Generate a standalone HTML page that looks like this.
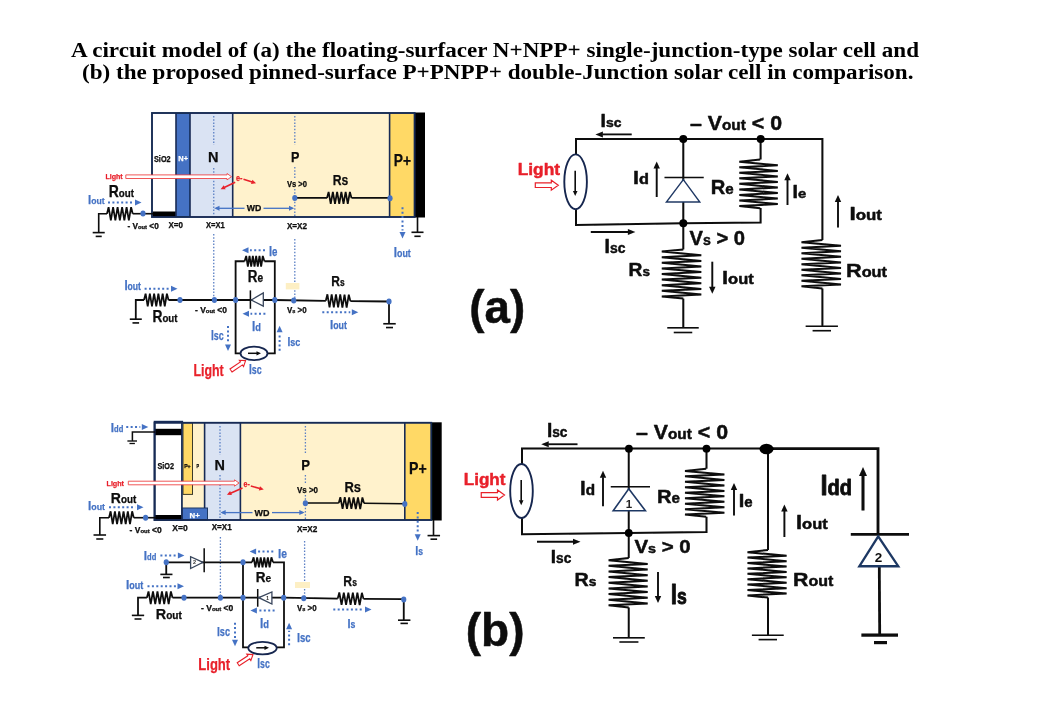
<!DOCTYPE html>
<html><head><meta charset="utf-8"><title>Circuit model</title>
<style>
html,body{margin:0;padding:0;background:#fff;}
body{width:1040px;height:720px;overflow:hidden;font-family:"Liberation Sans",sans-serif;}
svg{display:block;font-family:"Liberation Sans",sans-serif;}
</style></head><body>
<svg width="1040" height="720" viewBox="0 0 1040 720">
<defs><filter id="soft" x="0" y="0" width="1040" height="720" filterUnits="userSpaceOnUse"><feGaussianBlur stdDeviation="0.5"/></filter></defs>
<rect x="0" y="0" width="1040" height="720" fill="#ffffff"/>
<g filter="url(#soft)">
<text x="71" y="57.2" textLength="848" lengthAdjust="spacingAndGlyphs" fill="#000" font-weight="bold" font-family="Liberation Serif"><tspan font-size="20">A circuit model of (a) the floating-surfacer N+NPP+ single-junction-type solar cell and</tspan></text>
<text x="82" y="78.5" textLength="831.5" lengthAdjust="spacingAndGlyphs" fill="#000" font-weight="bold" font-family="Liberation Serif"><tspan font-size="20">(b) the proposed pinned-surface P+PNPP+ double-Junction solar cell in comparison.</tspan></text>
<!-- (a) cell -->
<rect x="152" y="113" width="24" height="104" fill="#ffffff" stroke="none" stroke-width="0"/>
<rect x="176" y="113" width="14" height="104" fill="#4472C4" stroke="none" stroke-width="0"/>
<rect x="190" y="113" width="42.7" height="104" fill="#DAE3F3" stroke="none" stroke-width="0"/>
<rect x="232.7" y="113" width="156.9" height="104" fill="#FFF2CC" stroke="none" stroke-width="0"/>
<rect x="389.6" y="113" width="25" height="104" fill="#FFD966" stroke="none" stroke-width="0"/>
<rect x="414.6" y="112.5" width="10.4" height="105" fill="#000" stroke="none" stroke-width="0"/>
<rect x="152.5" y="211.5" width="23.5" height="5.5" fill="#000" stroke="none" stroke-width="0"/>
<rect x="152" y="113" width="262.6" height="104" fill="none" stroke="#172B54" stroke-width="1.9"/>
<line x1="176" y1="113" x2="176" y2="217" stroke="#172B54" stroke-width="1.6"/>
<line x1="190" y1="113" x2="190" y2="217" stroke="#172B54" stroke-width="1.6"/>
<line x1="232.7" y1="113" x2="232.7" y2="217" stroke="#172B54" stroke-width="1.6"/>
<line x1="389.6" y1="113" x2="389.6" y2="217" stroke="#172B54" stroke-width="1.6"/>
<line x1="213.75" y1="116" x2="213.75" y2="145" stroke="#5A7FC4" stroke-width="1.3" stroke-dasharray="1.5 1.7"/>
<line x1="213.75" y1="168" x2="213.75" y2="216" stroke="#5A7FC4" stroke-width="1.3" stroke-dasharray="1.5 1.7"/>
<line x1="213.75" y1="234" x2="213.75" y2="299" stroke="#5A7FC4" stroke-width="1.3" stroke-dasharray="1.5 1.7"/>
<line x1="294.8" y1="116" x2="294.8" y2="145" stroke="#5A7FC4" stroke-width="1.3" stroke-dasharray="1.5 1.7"/>
<line x1="294.8" y1="167" x2="294.8" y2="178" stroke="#5A7FC4" stroke-width="1.3" stroke-dasharray="1.5 1.7"/>
<line x1="294.8" y1="189" x2="294.8" y2="216" stroke="#5A7FC4" stroke-width="1.3" stroke-dasharray="1.5 1.7"/>
<line x1="294.8" y1="239" x2="294.8" y2="299" stroke="#5A7FC4" stroke-width="1.3" stroke-dasharray="1.5 1.7"/>
<text x="154" y="162" textLength="16.6" lengthAdjust="spacingAndGlyphs" fill="#0a0a0a" font-weight="bold" stroke="#0a0a0a" stroke-width="0.25" stroke-linejoin="round"><tspan font-size="8.5">SiO2</tspan></text>
<text x="178.3" y="161" textLength="9.7" lengthAdjust="spacingAndGlyphs" fill="#fff" font-weight="bold" stroke="#fff" stroke-width="0.25" stroke-linejoin="round"><tspan font-size="7.5">N+</tspan></text>
<text x="208" y="162" textLength="10.5" lengthAdjust="spacingAndGlyphs" fill="#0a0a0a" font-weight="bold" stroke="#0a0a0a" stroke-width="0.25" stroke-linejoin="round"><tspan font-size="15.36">N</tspan></text>
<text x="291" y="162" textLength="8.4" lengthAdjust="spacingAndGlyphs" fill="#0a0a0a" font-weight="bold" stroke="#0a0a0a" stroke-width="0.25" stroke-linejoin="round"><tspan font-size="14.39">P</tspan></text>
<text x="393.75" y="165.6" textLength="17.25" lengthAdjust="spacingAndGlyphs" fill="#0a0a0a" font-weight="bold" stroke="#0a0a0a" stroke-width="0.25" stroke-linejoin="round"><tspan font-size="16.55">P+</tspan></text>
<polygon points="125.8,178.5 227,178.5 227,179.9 231.5,176.7 227,173.5 227,174.9 125.8,174.9" fill="#fff" stroke="#EE4545" stroke-width="0.9" stroke-linejoin="miter"/>
<text x="105.4" y="178.75" textLength="17.3" lengthAdjust="spacingAndGlyphs" fill="#E8202A" font-weight="bold" stroke="#E8202A" stroke-width="0.25" stroke-linejoin="round"><tspan font-size="8">Light</tspan></text>
<text x="236" y="180.5" textLength="6.5" lengthAdjust="spacingAndGlyphs" fill="#E8202A" font-weight="bold" stroke="#E8202A" stroke-width="0.25" stroke-linejoin="round"><tspan font-size="9">e-</tspan></text>
<line x1="235.2" y1="182.3" x2="224.22" y2="187.49" stroke="#E8202A" stroke-width="1.6"/>
<polygon points="220.6,189.2 223.71,185.24 225.63,189.31" fill="#E8202A"/>
<line x1="243.5" y1="179.2" x2="252.2" y2="182.05" stroke="#E8202A" stroke-width="1.6"/>
<polygon points="256,183.3 251.02,184.04 252.43,179.76" fill="#E8202A"/>
<text x="108.75" y="196.9" textLength="25.25" lengthAdjust="spacingAndGlyphs" fill="#0a0a0a" font-weight="bold" stroke="#0a0a0a" stroke-width="0.25" stroke-linejoin="round"><tspan font-size="16.06">R</tspan><tspan font-size="11.24">out</tspan></text>
<text x="88" y="204.2" textLength="16.6" lengthAdjust="spacingAndGlyphs" fill="#4472C4" font-weight="bold" stroke="#4472C4" stroke-width="0.25" stroke-linejoin="round"><tspan font-size="13.13">I</tspan><tspan font-size="9.98">out</tspan></text>
<line x1="108" y1="202.6" x2="133.5" y2="202.6" stroke="#4472C4" stroke-width="2" stroke-dasharray="2 2.4"/>
<polygon points="141.5,202.6 135,205.6 135,199.6" fill="#4472C4"/>
<path d="M98.7 232.6 L98.7 213.7 L107 213.7" stroke="#0a0a0a" stroke-width="1.6" fill="none"/>
<path d="M107 213.7 L108.6 207.1 L110.85 220.3 L113.1 207.1 L115.35 220.3 L117.6 207.1 L119.85 220.3 L122.1 207.1 L124.35 220.3 L126.6 207.1 L128.85 220.3 L131.1 207.1 L132.7 213.7" stroke="#0a0a0a" stroke-width="1.75" fill="none" stroke-linejoin="miter"/>
<line x1="132.7" y1="213.7" x2="153" y2="213.7" stroke="#0a0a0a" stroke-width="1.6"/>
<line x1="92.7" y1="232.6" x2="104.7" y2="232.6" stroke="#0a0a0a" stroke-width="1.6"/>
<line x1="95.7" y1="236.4" x2="101.7" y2="236.4" stroke="#0a0a0a" stroke-width="1.6"/>
<ellipse cx="143" cy="213.6" rx="2.6" ry="3" fill="#4472C4"/>
<text x="127.5" y="229.4" textLength="31.25" lengthAdjust="spacingAndGlyphs" fill="#0a0a0a" font-weight="bold" stroke="#0a0a0a" stroke-width="0.25" stroke-linejoin="round"><tspan font-size="8.3">- V</tspan><tspan font-size="5.8">out</tspan><tspan font-size="8.3"> &lt;0</tspan></text>
<text x="168.5" y="227.5" textLength="14.5" lengthAdjust="spacingAndGlyphs" fill="#0a0a0a" font-weight="bold" stroke="#0a0a0a" stroke-width="0.25" stroke-linejoin="round"><tspan font-size="8.5">X=0</tspan></text>
<text x="206" y="227.5" textLength="18.8" lengthAdjust="spacingAndGlyphs" fill="#0a0a0a" font-weight="bold" stroke="#0a0a0a" stroke-width="0.25" stroke-linejoin="round"><tspan font-size="8.5">X=X1</tspan></text>
<text x="286.9" y="228.7" textLength="20.1" lengthAdjust="spacingAndGlyphs" fill="#0a0a0a" font-weight="bold" stroke="#0a0a0a" stroke-width="0.25" stroke-linejoin="round"><tspan font-size="8.5">X=X2</tspan></text>
<text x="286.9" y="187" textLength="20.1" lengthAdjust="spacingAndGlyphs" fill="#0a0a0a" font-weight="bold" stroke="#0a0a0a" stroke-width="0.25" stroke-linejoin="round"><tspan font-size="8.5">Vs &gt;0</tspan></text>
<text x="332.7" y="185" textLength="15.6" lengthAdjust="spacingAndGlyphs" fill="#0a0a0a" font-weight="bold" stroke="#0a0a0a" stroke-width="0.25" stroke-linejoin="round"><tspan font-size="15.36">Rs</tspan></text>
<line x1="294.8" y1="197.9" x2="327" y2="197.9" stroke="#0a0a0a" stroke-width="1.6"/>
<path d="M327 197.9 L328.6 191.9 L330.73 203.9 L332.86 191.9 L334.99 203.9 L337.12 191.9 L339.25 203.9 L341.38 191.9 L343.51 203.9 L345.64 191.9 L347.77 203.9 L349.9 191.9 L351.5 197.9" stroke="#0a0a0a" stroke-width="1.75" fill="none" stroke-linejoin="miter"/>
<line x1="351.5" y1="197.9" x2="390" y2="197.9" stroke="#0a0a0a" stroke-width="1.6"/>
<ellipse cx="294.8" cy="197.9" rx="2.6" ry="3" fill="#4472C4"/>
<ellipse cx="390" cy="198.3" rx="2.6" ry="3" fill="#4472C4"/>
<line x1="216" y1="208.3" x2="244.5" y2="208.3" stroke="#4472C4" stroke-width="1.3"/>
<line x1="263.5" y1="208.3" x2="292.5" y2="208.3" stroke="#4472C4" stroke-width="1.3"/>
<polygon points="214.2,208.3 219.5,205.8 219.5,210.8" fill="#4472C4"/>
<polygon points="294.2,208.3 289,205.8 289,210.8" fill="#4472C4"/>
<text x="246.7" y="211.3" textLength="14.55" lengthAdjust="spacingAndGlyphs" fill="#0a0a0a" font-weight="bold" stroke="#0a0a0a" stroke-width="0.25" stroke-linejoin="round"><tspan font-size="8.5">WD</tspan></text>
<line x1="402.5" y1="207.3" x2="402.5" y2="230.5" stroke="#4472C4" stroke-width="2" stroke-dasharray="2 2.4"/>
<polygon points="402.5,238.5 399.5,232 405.5,232" fill="#4472C4"/>
<line x1="417.5" y1="217" x2="417.5" y2="232.3" stroke="#0a0a0a" stroke-width="1.6"/>
<line x1="411.5" y1="232.3" x2="423.5" y2="232.3" stroke="#0a0a0a" stroke-width="1.6"/>
<line x1="414.4" y1="236.3" x2="420.6" y2="236.3" stroke="#0a0a0a" stroke-width="1.6"/>
<text x="393.75" y="256.7" textLength="17.05" lengthAdjust="spacingAndGlyphs" fill="#4472C4" font-weight="bold" stroke="#4472C4" stroke-width="0.25" stroke-linejoin="round"><tspan font-size="13.97">I</tspan><tspan font-size="10.61">out</tspan></text>
<!-- (a) mid circuit -->
<rect x="285.8" y="283" width="13.6" height="6.4" fill="#FDEFC4" stroke="none" stroke-width="0"/>
<path d="M135.8 319.2 L135.8 300 L144 300" stroke="#0a0a0a" stroke-width="1.8" fill="none"/>
<line x1="129.8" y1="319.2" x2="141.8" y2="319.2" stroke="#0a0a0a" stroke-width="1.6"/>
<line x1="132.5" y1="322.9" x2="139.1" y2="322.9" stroke="#0a0a0a" stroke-width="1.6"/>
<path d="M144 300 L145.6 293.6 L147.73 306.4 L149.86 293.6 L151.99 306.4 L154.12 293.6 L156.25 306.4 L158.38 293.6 L160.51 306.4 L162.64 293.6 L164.77 306.4 L166.9 293.6 L168.5 300" stroke="#0a0a0a" stroke-width="1.75" fill="none" stroke-linejoin="miter"/>
<path d="M168.5 300 L274.8 300 L325.8 300.8" stroke="#0a0a0a" stroke-width="1.8" fill="none"/>
<path d="M325.8 300.8 L327.4 294.3 L329.54 307.33 L331.68 294.36 L333.82 307.39 L335.96 294.42 L338.1 307.45 L340.24 294.48 L342.38 307.51 L344.52 294.54 L346.66 307.57 L348.8 294.6 L350.4 301.1" stroke="#0a0a0a" stroke-width="1.75" fill="none" stroke-linejoin="miter"/>
<path d="M350.4 301.1 L389 301.5 L389 323.75" stroke="#0a0a0a" stroke-width="1.8" fill="none"/>
<line x1="383.25" y1="323.75" x2="395.75" y2="323.75" stroke="#0a0a0a" stroke-width="1.6"/>
<line x1="386" y1="327.55" x2="393" y2="327.55" stroke="#0a0a0a" stroke-width="1.6"/>
<path d="M235.6 300 L235.6 261.25 L244.6 261.25" stroke="#0a0a0a" stroke-width="1.8" fill="none"/>
<path d="M244.6 261.25 L246.2 255.95 L247.86 266.55 L249.52 255.95 L251.18 266.55 L252.84 255.95 L254.5 266.55 L256.16 255.95 L257.82 266.55 L259.48 255.95 L261.14 266.55 L262.8 255.95 L264.4 261.25" stroke="#0a0a0a" stroke-width="1.75" fill="none" stroke-linejoin="miter"/>
<path d="M264.4 261.25 L274.8 261.25 L274.8 300" stroke="#0a0a0a" stroke-width="1.8" fill="none"/>
<path d="M235.6 300 L235.6 353.3 L240.4 353.3" stroke="#0a0a0a" stroke-width="1.8" fill="none"/>
<path d="M267.5 353.3 L274.8 353.3 L274.8 300" stroke="#0a0a0a" stroke-width="1.8" fill="none"/>
<ellipse cx="254" cy="353.4" rx="13.5" ry="6.7" fill="#fff" stroke="#17274F" stroke-width="1.8"/>
<line x1="248" y1="353.3" x2="257" y2="353.3" stroke="#0a0a0a" stroke-width="1.5"/>
<polygon points="261,353.3 256.5,355.4 256.5,351.2" fill="#0a0a0a"/>
<line x1="250.4" y1="290.4" x2="250.4" y2="308.8" stroke="#0a0a0a" stroke-width="1.5"/>
<polygon points="251.3,300 263.3,293 263.3,306.2" fill="#fff" stroke="#39465C" stroke-width="1.3"/>
<ellipse cx="180" cy="300" rx="2.6" ry="3" fill="#4472C4"/>
<ellipse cx="214.4" cy="300" rx="2.6" ry="3" fill="#4472C4"/>
<ellipse cx="235.6" cy="300" rx="2.6" ry="3" fill="#4472C4"/>
<ellipse cx="274.8" cy="300" rx="2.6" ry="3" fill="#4472C4"/>
<ellipse cx="293.75" cy="300.4" rx="2.6" ry="3" fill="#4472C4"/>
<ellipse cx="389" cy="301.6" rx="2.6" ry="3" fill="#4472C4"/>
<text x="124.4" y="290" textLength="16.6" lengthAdjust="spacingAndGlyphs" fill="#4472C4" font-weight="bold" stroke="#4472C4" stroke-width="0.25" stroke-linejoin="round"><tspan font-size="13.97">I</tspan><tspan font-size="10.61">out</tspan></text>
<line x1="144.6" y1="288.75" x2="169.5" y2="288.75" stroke="#4472C4" stroke-width="2" stroke-dasharray="2 2.4"/>
<polygon points="177.5,288.75 171,291.75 171,285.75" fill="#4472C4"/>
<text x="152.5" y="321.7" textLength="25" lengthAdjust="spacingAndGlyphs" fill="#0a0a0a" font-weight="bold" stroke="#0a0a0a" stroke-width="0.25" stroke-linejoin="round"><tspan font-size="16.34">R</tspan><tspan font-size="11.44">out</tspan></text>
<text x="195" y="312.8" textLength="32" lengthAdjust="spacingAndGlyphs" fill="#0a0a0a" font-weight="bold" stroke="#0a0a0a" stroke-width="0.25" stroke-linejoin="round"><tspan font-size="8.3">- V</tspan><tspan font-size="5.8">out</tspan><tspan font-size="8.3"> &lt;0</tspan></text>
<line x1="265" y1="250.2" x2="250" y2="250.2" stroke="#4472C4" stroke-width="2" stroke-dasharray="2 2.4"/>
<polygon points="242,250.2 248.5,247.2 248.5,253.2" fill="#4472C4"/>
<text x="269" y="256" textLength="8.5" lengthAdjust="spacingAndGlyphs" fill="#4472C4" font-weight="bold" stroke="#4472C4" stroke-width="0.25" stroke-linejoin="round"><tspan font-size="13.97">I</tspan><tspan font-size="12.29">e</tspan></text>
<text x="247.7" y="282" textLength="15.3" lengthAdjust="spacingAndGlyphs" fill="#0a0a0a" font-weight="bold" stroke="#0a0a0a" stroke-width="0.25" stroke-linejoin="round"><tspan font-size="15.92">R</tspan><tspan font-size="11.94">e</tspan></text>
<line x1="265.4" y1="313.75" x2="250.5" y2="313.75" stroke="#4472C4" stroke-width="2" stroke-dasharray="2 2.4"/>
<polygon points="242.5,313.75 249,310.75 249,316.75" fill="#4472C4"/>
<text x="251.9" y="331" textLength="8.9" lengthAdjust="spacingAndGlyphs" fill="#4472C4" font-weight="bold" stroke="#4472C4" stroke-width="0.25" stroke-linejoin="round"><tspan font-size="14.53">I</tspan><tspan font-size="11.62">d</tspan></text>
<text x="211" y="340.4" textLength="12.75" lengthAdjust="spacingAndGlyphs" fill="#4472C4" font-weight="bold" stroke="#4472C4" stroke-width="0.25" stroke-linejoin="round"><tspan font-size="14.53">I</tspan><tspan font-size="12.78">sc</tspan></text>
<line x1="228" y1="326" x2="228" y2="343" stroke="#4472C4" stroke-width="2" stroke-dasharray="2 2.4"/>
<polygon points="228,351 225,344.5 231,344.5" fill="#4472C4"/>
<line x1="279.6" y1="350.8" x2="279.6" y2="333.8" stroke="#4472C4" stroke-width="2" stroke-dasharray="2 2.4"/>
<polygon points="279.6,325.8 282.6,332.3 276.6,332.3" fill="#4472C4"/>
<text x="287.5" y="345.6" textLength="12.9" lengthAdjust="spacingAndGlyphs" fill="#4472C4" font-weight="bold" stroke="#4472C4" stroke-width="0.25" stroke-linejoin="round"><tspan font-size="13.41">I</tspan><tspan font-size="11.8">sc</tspan></text>
<text x="249" y="374" textLength="12.7" lengthAdjust="spacingAndGlyphs" fill="#4472C4" font-weight="bold" stroke="#4472C4" stroke-width="0.25" stroke-linejoin="round"><tspan font-size="13.97">I</tspan><tspan font-size="12.29">sc</tspan></text>
<text x="193.5" y="375.8" textLength="30.25" lengthAdjust="spacingAndGlyphs" fill="#E8202A" font-weight="bold" stroke="#E8202A" stroke-width="0.25" stroke-linejoin="round"><tspan font-size="15.92">Light</tspan></text>
<polygon points="232.01,371.99 242.47,364.9 243.57,366.51 245.6,360.6 239.36,360.3 240.45,361.92 229.99,369.01" fill="#fff" stroke="#E8202A" stroke-width="1.1" stroke-linejoin="miter"/>
<text x="331.25" y="286.25" textLength="13.35" lengthAdjust="spacingAndGlyphs" fill="#0a0a0a" font-weight="bold" stroke="#0a0a0a" stroke-width="0.25" stroke-linejoin="round"><tspan font-size="15.15">R</tspan><tspan font-size="10.61">s</tspan></text>
<text x="286.9" y="312.8" textLength="19.8" lengthAdjust="spacingAndGlyphs" fill="#0a0a0a" font-weight="bold" stroke="#0a0a0a" stroke-width="0.25" stroke-linejoin="round"><tspan font-size="8.5">V</tspan><tspan font-size="6">s</tspan><tspan font-size="8.5"> &gt;0</tspan></text>
<line x1="322.3" y1="312.3" x2="350.3" y2="312.3" stroke="#4472C4" stroke-width="2" stroke-dasharray="2 2.4"/>
<polygon points="358.3,312.3 351.8,315.3 351.8,309.3" fill="#4472C4"/>
<text x="330" y="328.5" textLength="16.9" lengthAdjust="spacingAndGlyphs" fill="#4472C4" font-weight="bold" stroke="#4472C4" stroke-width="0.25" stroke-linejoin="round"><tspan font-size="13.27">I</tspan><tspan font-size="10.08">out</tspan></text>
<!-- (a) right circuit -->
<path d="M576 154.5 L576 139.1 L822.4 139.1 L822.4 240" stroke="#0a0a0a" stroke-width="2" fill="none"/>
<path d="M576 209 L576 225 L683.3 223.2 L760.6 222.6 L760.6 208" stroke="#0a0a0a" stroke-width="2" fill="none"/>
<ellipse cx="575.6" cy="181.8" rx="11.3" ry="27.4" fill="#fff" stroke="#17274F" stroke-width="1.9"/>
<line x1="575.2" y1="170.8" x2="575.2" y2="191.5" stroke="#0a0a0a" stroke-width="1.6"/>
<polygon points="575.2,196 572.9,191 577.5,191" fill="#0a0a0a"/>
<line x1="683.3" y1="139.1" x2="683.3" y2="249.4" stroke="#0a0a0a" stroke-width="2"/>
<line x1="664.5" y1="177.6" x2="703.75" y2="177.6" stroke="#0a0a0a" stroke-width="1.5"/>
<polygon points="683.3,179.6 699.8,202 666.4,202" fill="#fff" stroke="#1F3864" stroke-width="1.4"/>
<line x1="760.6" y1="139.1" x2="760.6" y2="159.5" stroke="#0a0a0a" stroke-width="2"/>
<path d="M760.2 159.5 L739.3 161.7 L777.8 165.35 L739.3 167.24 L777.8 170.89 L739.3 172.77 L777.8 176.43 L739.3 178.31 L777.8 181.97 L739.3 183.85 L777.8 187.5 L739.3 189.39 L777.8 193.04 L739.3 194.92 L777.8 198.58 L739.3 200.46 L777.8 204.12 L739.3 206 L760.2 208.2" stroke="#0a0a0a" stroke-width="2" fill="none" stroke-linejoin="miter" stroke-miterlimit="2"/>
<path d="M683.3 249.4 L661.8 251.6 L701.3 255.3 L661.8 257.2 L701.3 260.9 L661.8 262.8 L701.3 266.5 L661.8 268.4 L701.3 272.1 L661.8 274 L701.3 277.7 L661.8 279.6 L701.3 283.3 L661.8 285.2 L701.3 288.9 L661.8 290.8 L701.3 294.5 L661.8 296.4 L683.3 298.6" stroke="#0a0a0a" stroke-width="2" fill="none" stroke-linejoin="miter" stroke-miterlimit="2"/>
<line x1="683.3" y1="298.6" x2="683.3" y2="327.8" stroke="#0a0a0a" stroke-width="2"/>
<line x1="667.25" y1="327.8" x2="698.75" y2="327.8" stroke="#0a0a0a" stroke-width="1.6"/>
<line x1="673.75" y1="332.5" x2="692.25" y2="332.5" stroke="#0a0a0a" stroke-width="1.6"/>
<path d="M822.4 240 L801.5 242.2 L841 245.84 L801.5 247.71 L841 251.35 L801.5 253.22 L841 256.86 L801.5 258.74 L841 262.38 L801.5 264.25 L841 267.89 L801.5 269.76 L841 273.4 L801.5 275.27 L841 278.91 L801.5 280.79 L841 284.43 L801.5 286.3 L822.4 288.5" stroke="#0a0a0a" stroke-width="2" fill="none" stroke-linejoin="miter" stroke-miterlimit="2"/>
<line x1="822.4" y1="288.5" x2="822.4" y2="326.3" stroke="#0a0a0a" stroke-width="2"/>
<line x1="805.65" y1="326.3" x2="837.95" y2="326.3" stroke="#0a0a0a" stroke-width="1.6"/>
<line x1="812.6" y1="330.7" x2="831" y2="330.7" stroke="#0a0a0a" stroke-width="1.6"/>
<ellipse cx="683.3" cy="139.1" rx="4" ry="4" fill="#000"/>
<ellipse cx="760.7" cy="139.1" rx="4" ry="4" fill="#000"/>
<ellipse cx="683.3" cy="223.2" rx="4" ry="4" fill="#000"/>
<text x="600.6" y="127" textLength="20.9" lengthAdjust="spacingAndGlyphs" fill="#0a0a0a" font-weight="bold" stroke="#0a0a0a" stroke-width="0.45" stroke-linejoin="round"><tspan font-size="18.85">I</tspan><tspan font-size="13.58">sc</tspan></text>
<line x1="631.7" y1="134.4" x2="602.4" y2="134.4" stroke="#0a0a0a" stroke-width="1.8"/>
<polygon points="595.4,134.4 602.9,131.4 602.9,137.4" fill="#0a0a0a"/>
<text x="690" y="129.5" textLength="92" lengthAdjust="spacingAndGlyphs" fill="#0a0a0a" font-weight="bold" stroke="#0a0a0a" stroke-width="0.45" stroke-linejoin="round"><tspan font-size="20.25">– V</tspan><tspan font-size="14.58">out</tspan><tspan font-size="20.25"> &lt; 0</tspan></text>
<text x="517.7" y="175" textLength="42.3" lengthAdjust="spacingAndGlyphs" fill="#E8202A" font-weight="bold" stroke="#E8202A" stroke-width="0.45" stroke-linejoin="round"><tspan font-size="16.06">Light</tspan></text>
<polygon points="535.3,187.5 551.3,187.5 551.3,190.2 558.3,185.2 551.3,180.2 551.3,182.9 535.3,182.9" fill="#fff" stroke="#E8202A" stroke-width="1.2" stroke-linejoin="miter"/>
<text x="633" y="184.4" textLength="16" lengthAdjust="spacingAndGlyphs" fill="#0a0a0a" font-weight="bold" stroke="#0a0a0a" stroke-width="0.45" stroke-linejoin="round"><tspan font-size="18.99">I</tspan><tspan font-size="14.25">d</tspan></text>
<line x1="656.7" y1="197" x2="656.7" y2="168" stroke="#0a0a0a" stroke-width="1.9"/>
<polygon points="656.7,161.5 659.9,168.5 653.5,168.5" fill="#0a0a0a"/>
<text x="710.75" y="193.75" textLength="23" lengthAdjust="spacingAndGlyphs" fill="#0a0a0a" font-weight="bold" stroke="#0a0a0a" stroke-width="0.45" stroke-linejoin="round"><tspan font-size="19.9">R</tspan><tspan font-size="14.93">e</tspan></text>
<line x1="787.5" y1="205" x2="787.5" y2="179.75" stroke="#0a0a0a" stroke-width="1.9"/>
<polygon points="787.5,173.25 790.7,180.25 784.3,180.25" fill="#0a0a0a"/>
<text x="792.5" y="197.5" textLength="13.75" lengthAdjust="spacingAndGlyphs" fill="#0a0a0a" font-weight="bold" stroke="#0a0a0a" stroke-width="0.45" stroke-linejoin="round"><tspan font-size="17.46">I</tspan><tspan font-size="13.09">e</tspan></text>
<line x1="838" y1="227.5" x2="838" y2="201.5" stroke="#0a0a0a" stroke-width="1.9"/>
<polygon points="838,195 841.2,202 834.8,202" fill="#0a0a0a"/>
<text x="849.5" y="220" textLength="32.5" lengthAdjust="spacingAndGlyphs" fill="#0a0a0a" font-weight="bold" stroke="#0a0a0a" stroke-width="0.45" stroke-linejoin="round"><tspan font-size="19.2">I</tspan><tspan font-size="14.4">out</tspan></text>
<text x="689.5" y="244.5" textLength="55.5" lengthAdjust="spacingAndGlyphs" fill="#0a0a0a" font-weight="bold" stroke="#0a0a0a" stroke-width="0.45" stroke-linejoin="round"><tspan font-size="20.25">V</tspan><tspan font-size="14.18">s</tspan><tspan font-size="20.25"> &gt; 0</tspan></text>
<line x1="590.8" y1="232" x2="628.4" y2="232" stroke="#0a0a0a" stroke-width="1.8"/>
<polygon points="635.4,232 627.9,235 627.9,229" fill="#0a0a0a"/>
<text x="604.6" y="252.5" textLength="20.9" lengthAdjust="spacingAndGlyphs" fill="#0a0a0a" font-weight="bold" stroke="#0a0a0a" stroke-width="0.45" stroke-linejoin="round"><tspan font-size="19.41">I</tspan><tspan font-size="13.98">sc</tspan></text>
<text x="628.6" y="276" textLength="21.4" lengthAdjust="spacingAndGlyphs" fill="#0a0a0a" font-weight="bold" stroke="#0a0a0a" stroke-width="0.45" stroke-linejoin="round"><tspan font-size="19.13">R</tspan><tspan font-size="13.39">s</tspan></text>
<line x1="712.3" y1="261.7" x2="712.3" y2="287.2" stroke="#0a0a0a" stroke-width="1.9"/>
<polygon points="712.3,293.7 709.1,286.7 715.5,286.7" fill="#0a0a0a"/>
<text x="722" y="283.8" textLength="31.8" lengthAdjust="spacingAndGlyphs" fill="#0a0a0a" font-weight="bold" stroke="#0a0a0a" stroke-width="0.45" stroke-linejoin="round"><tspan font-size="19.27">I</tspan><tspan font-size="14.46">out</tspan></text>
<text x="846" y="276.5" textLength="41" lengthAdjust="spacingAndGlyphs" fill="#0a0a0a" font-weight="bold" stroke="#0a0a0a" stroke-width="0.45" stroke-linejoin="round"><tspan font-size="18.85">R</tspan><tspan font-size="14.14">out</tspan></text>
<text x="469.3" y="323" textLength="55.9" lengthAdjust="spacingAndGlyphs" fill="#0a0a0a" font-weight="bold" stroke="#0a0a0a" stroke-width="0.45" stroke-linejoin="round"><tspan font-size="46">(a)</tspan></text>
<!-- (b) cell -->
<rect x="154.6" y="421.7" width="27.6" height="98.3" fill="#ffffff" stroke="#172B54" stroke-width="1.8"/>
<rect x="182" y="422.8" width="22.6" height="85.2" fill="#FFF2CC" stroke="none" stroke-width="0"/>
<rect x="183" y="422.8" width="9.5" height="71.6" fill="#FFD966" stroke="#3a3a2a" stroke-width="1"/>
<rect x="204.6" y="422.8" width="35.8" height="97.2" fill="#DAE3F3" stroke="none" stroke-width="0"/>
<rect x="182" y="508" width="25.5" height="12" fill="#4472C4" stroke="#1F3864" stroke-width="1"/>
<rect x="240.4" y="422.8" width="164.4" height="97.2" fill="#FFF2CC" stroke="none" stroke-width="0"/>
<rect x="404.8" y="422.8" width="26.45" height="97.2" fill="#FFD966" stroke="none" stroke-width="0"/>
<rect x="431.25" y="422.3" width="10.45" height="98.2" fill="#000" stroke="none" stroke-width="0"/>
<rect x="155" y="428.8" width="26.9" height="6.4" fill="#000" stroke="none" stroke-width="0"/>
<rect x="155" y="515" width="26.7" height="5" fill="#000" stroke="none" stroke-width="0"/>
<rect x="154.6" y="422.8" width="276.65" height="97.2" fill="none" stroke="#172B54" stroke-width="1.9"/>
<line x1="182" y1="422.8" x2="182" y2="520" stroke="#172B54" stroke-width="1.6"/>
<line x1="204.6" y1="422.8" x2="204.6" y2="508" stroke="#172B54" stroke-width="1.6"/>
<line x1="240.4" y1="422.8" x2="240.4" y2="520" stroke="#172B54" stroke-width="1.6"/>
<line x1="404.8" y1="422.8" x2="404.8" y2="520" stroke="#172B54" stroke-width="1.6"/>
<line x1="213.5" y1="116" x2="213.5" y2="116" stroke="#4472C4" stroke-width="0"/>
<line x1="220" y1="426" x2="220" y2="455" stroke="#5A7FC4" stroke-width="1.3" stroke-dasharray="1.5 1.7"/>
<line x1="220" y1="475" x2="220" y2="519" stroke="#5A7FC4" stroke-width="1.3" stroke-dasharray="1.5 1.7"/>
<line x1="220.4" y1="537" x2="220.4" y2="597" stroke="#5A7FC4" stroke-width="1.3" stroke-dasharray="1.5 1.7"/>
<line x1="305.4" y1="426" x2="305.4" y2="454" stroke="#5A7FC4" stroke-width="1.3" stroke-dasharray="1.5 1.7"/>
<line x1="305.4" y1="475" x2="305.4" y2="484" stroke="#5A7FC4" stroke-width="1.3" stroke-dasharray="1.5 1.7"/>
<line x1="305.4" y1="495" x2="305.4" y2="519" stroke="#5A7FC4" stroke-width="1.3" stroke-dasharray="1.5 1.7"/>
<line x1="304.6" y1="541" x2="304.6" y2="597" stroke="#5A7FC4" stroke-width="1.3" stroke-dasharray="1.5 1.7"/>
<text x="157.5" y="469.3" textLength="16.5" lengthAdjust="spacingAndGlyphs" fill="#0a0a0a" font-weight="bold" stroke="#0a0a0a" stroke-width="0.25" stroke-linejoin="round"><tspan font-size="8.5">SiO2</tspan></text>
<text x="184.2" y="468" textLength="6.4" lengthAdjust="spacingAndGlyphs" fill="#0a0a0a" font-weight="bold" stroke="#0a0a0a" stroke-width="0.25" stroke-linejoin="round"><tspan font-size="4.6">P+</tspan></text>
<text x="196.6" y="468" textLength="2.6" lengthAdjust="spacingAndGlyphs" fill="#0a0a0a" font-weight="bold" stroke="#0a0a0a" stroke-width="0.25" stroke-linejoin="round"><tspan font-size="4.6">P</tspan></text>
<text x="214.4" y="470" textLength="10.4" lengthAdjust="spacingAndGlyphs" fill="#0a0a0a" font-weight="bold" stroke="#0a0a0a" stroke-width="0.25" stroke-linejoin="round"><tspan font-size="15.36">N</tspan></text>
<text x="301.25" y="470.4" textLength="8.75" lengthAdjust="spacingAndGlyphs" fill="#0a0a0a" font-weight="bold" stroke="#0a0a0a" stroke-width="0.25" stroke-linejoin="round"><tspan font-size="15.08">P</tspan></text>
<text x="409" y="473.5" textLength="17.7" lengthAdjust="spacingAndGlyphs" fill="#0a0a0a" font-weight="bold" stroke="#0a0a0a" stroke-width="0.25" stroke-linejoin="round"><tspan font-size="16.06">P+</tspan></text>
<text x="189.6" y="518" textLength="10.2" lengthAdjust="spacingAndGlyphs" fill="#fff" font-weight="bold" stroke="#fff" stroke-width="0.25" stroke-linejoin="round"><tspan font-size="7.5">N+</tspan></text>
<polygon points="128.3,484.8 234.5,484.8 234.5,486.2 239,483 234.5,479.8 234.5,481.2 128.3,481.2" fill="#fff" stroke="#EE4545" stroke-width="0.9" stroke-linejoin="miter"/>
<text x="106.5" y="485.5" textLength="17.5" lengthAdjust="spacingAndGlyphs" fill="#E8202A" font-weight="bold" stroke="#E8202A" stroke-width="0.25" stroke-linejoin="round"><tspan font-size="8">Light</tspan></text>
<text x="243.5" y="487" textLength="6.3" lengthAdjust="spacingAndGlyphs" fill="#E8202A" font-weight="bold" stroke="#E8202A" stroke-width="0.25" stroke-linejoin="round"><tspan font-size="9">e-</tspan></text>
<line x1="242.5" y1="488" x2="230.57" y2="493.2" stroke="#E8202A" stroke-width="1.6"/>
<polygon points="226.9,494.8 230.13,490.94 231.92,495.06" fill="#E8202A"/>
<line x1="250.8" y1="486" x2="259.9" y2="488.53" stroke="#E8202A" stroke-width="1.6"/>
<polygon points="263.75,489.6 258.81,490.56 260.02,486.23" fill="#E8202A"/>
<text x="110.8" y="502.7" textLength="25.45" lengthAdjust="spacingAndGlyphs" fill="#0a0a0a" font-weight="bold" stroke="#0a0a0a" stroke-width="0.25" stroke-linejoin="round"><tspan font-size="15.08">R</tspan><tspan font-size="10.56">out</tspan></text>
<text x="88" y="510" textLength="17" lengthAdjust="spacingAndGlyphs" fill="#4472C4" font-weight="bold" stroke="#4472C4" stroke-width="0.25" stroke-linejoin="round"><tspan font-size="13.13">I</tspan><tspan font-size="9.98">out</tspan></text>
<line x1="109" y1="507.3" x2="135.5" y2="507.3" stroke="#4472C4" stroke-width="2" stroke-dasharray="2 2.4"/>
<polygon points="143.5,507.3 137,510.3 137,504.3" fill="#4472C4"/>
<path d="M99.8 535 L99.8 517.7 L109 517.7" stroke="#0a0a0a" stroke-width="1.6" fill="none"/>
<path d="M109 517.7 L110.6 511.3 L112.75 524.1 L114.91 511.3 L117.06 524.1 L119.22 511.3 L121.38 524.1 L123.53 511.3 L125.69 524.1 L127.84 511.3 L130 524.1 L132.15 511.3 L133.75 517.7" stroke="#0a0a0a" stroke-width="1.75" fill="none" stroke-linejoin="miter"/>
<line x1="133.75" y1="517.7" x2="156" y2="517.7" stroke="#0a0a0a" stroke-width="1.6"/>
<line x1="93.55" y1="535" x2="106.05" y2="535" stroke="#0a0a0a" stroke-width="1.6"/>
<line x1="96.3" y1="539" x2="103.3" y2="539" stroke="#0a0a0a" stroke-width="1.6"/>
<ellipse cx="145.6" cy="517.7" rx="2.6" ry="3" fill="#4472C4"/>
<text x="129.6" y="532.8" textLength="32.1" lengthAdjust="spacingAndGlyphs" fill="#0a0a0a" font-weight="bold" stroke="#0a0a0a" stroke-width="0.25" stroke-linejoin="round"><tspan font-size="8.3">- V</tspan><tspan font-size="5.8">out</tspan><tspan font-size="8.3"> &lt;0</tspan></text>
<text x="172.3" y="531" textLength="15.4" lengthAdjust="spacingAndGlyphs" fill="#0a0a0a" font-weight="bold" stroke="#0a0a0a" stroke-width="0.25" stroke-linejoin="round"><tspan font-size="8.5">X=0</tspan></text>
<text x="211.7" y="530" textLength="20" lengthAdjust="spacingAndGlyphs" fill="#0a0a0a" font-weight="bold" stroke="#0a0a0a" stroke-width="0.25" stroke-linejoin="round"><tspan font-size="8.5">X=X1</tspan></text>
<text x="296.9" y="531.8" textLength="20.4" lengthAdjust="spacingAndGlyphs" fill="#0a0a0a" font-weight="bold" stroke="#0a0a0a" stroke-width="0.25" stroke-linejoin="round"><tspan font-size="8.5">X=X2</tspan></text>
<text x="296.9" y="492.8" textLength="21.1" lengthAdjust="spacingAndGlyphs" fill="#0a0a0a" font-weight="bold" stroke="#0a0a0a" stroke-width="0.25" stroke-linejoin="round"><tspan font-size="8.5">Vs &gt;0</tspan></text>
<text x="344.4" y="491.7" textLength="16.6" lengthAdjust="spacingAndGlyphs" fill="#0a0a0a" font-weight="bold" stroke="#0a0a0a" stroke-width="0.25" stroke-linejoin="round"><tspan font-size="15.22">Rs</tspan></text>
<text x="110.8" y="432" textLength="12.5" lengthAdjust="spacingAndGlyphs" fill="#4472C4" font-weight="bold" stroke="#4472C4" stroke-width="0.25" stroke-linejoin="round"><tspan font-size="13.27">I</tspan><tspan font-size="8.49">dd</tspan></text>
<line x1="126.25" y1="427" x2="140.3" y2="427" stroke="#4472C4" stroke-width="2" stroke-dasharray="2 2.4"/>
<polygon points="148.3,427 141.8,430 141.8,424" fill="#4472C4"/>
<path d="M155 432 L132.4 432 L132.4 441" stroke="#0a0a0a" stroke-width="1.5" fill="none"/>
<line x1="127.4" y1="441" x2="137" y2="441" stroke="#0a0a0a" stroke-width="1.3"/>
<line x1="129.5" y1="443.5" x2="134.9" y2="443.5" stroke="#0a0a0a" stroke-width="1.3"/>
<line x1="305.4" y1="503" x2="338.75" y2="503" stroke="#0a0a0a" stroke-width="1.6"/>
<path d="M338.75 503 L340.35 497.2 L342.56 508.83 L344.76 497.26 L346.97 508.89 L349.17 497.32 L351.38 508.95 L353.58 497.38 L355.79 509.01 L357.99 497.44 L360.2 509.07 L362.4 497.5 L364 503.3" stroke="#0a0a0a" stroke-width="1.75" fill="none" stroke-linejoin="miter"/>
<line x1="364" y1="503.3" x2="404.8" y2="503.8" stroke="#0a0a0a" stroke-width="1.6"/>
<ellipse cx="305.4" cy="503.2" rx="2.6" ry="3" fill="#4472C4"/>
<ellipse cx="404.8" cy="504" rx="2.6" ry="3" fill="#4472C4"/>
<line x1="222" y1="512.6" x2="252.5" y2="512.6" stroke="#4472C4" stroke-width="1.3"/>
<line x1="272" y1="512.6" x2="303" y2="512.6" stroke="#4472C4" stroke-width="1.3"/>
<polygon points="220.4,512.6 225.7,510.1 225.7,515.1" fill="#4472C4"/>
<polygon points="304.6,512.6 299.3,510.1 299.3,515.1" fill="#4472C4"/>
<text x="254.6" y="515.6" textLength="15" lengthAdjust="spacingAndGlyphs" fill="#0a0a0a" font-weight="bold" stroke="#0a0a0a" stroke-width="0.25" stroke-linejoin="round"><tspan font-size="8.5">WD</tspan></text>
<line x1="417.7" y1="512" x2="417.7" y2="532.8" stroke="#4472C4" stroke-width="2" stroke-dasharray="2 2.4"/>
<polygon points="417.7,540.8 414.7,534.3 420.7,534.3" fill="#4472C4"/>
<line x1="433.5" y1="520" x2="433.5" y2="535.6" stroke="#0a0a0a" stroke-width="1.6"/>
<line x1="427.55" y1="535.6" x2="440.05" y2="535.6" stroke="#0a0a0a" stroke-width="1.6"/>
<line x1="430.5" y1="539.2" x2="437.1" y2="539.2" stroke="#0a0a0a" stroke-width="1.6"/>
<text x="415.2" y="554.8" textLength="7.8" lengthAdjust="spacingAndGlyphs" fill="#4472C4" font-weight="bold" stroke="#4472C4" stroke-width="0.25" stroke-linejoin="round"><tspan font-size="13.69">I</tspan><tspan font-size="10.95">s</tspan></text>
<!-- (b) mid circuit -->
<rect x="295" y="582" width="15" height="6" fill="#FDEFC4" stroke="none" stroke-width="0"/>
<path d="M138 615.4 L138 597.7 L146.9 597.7" stroke="#0a0a0a" stroke-width="1.8" fill="none"/>
<line x1="131.85" y1="615.4" x2="144.15" y2="615.4" stroke="#0a0a0a" stroke-width="1.6"/>
<line x1="134.55" y1="619" x2="141.45" y2="619" stroke="#0a0a0a" stroke-width="1.6"/>
<path d="M146.9 597.7 L148.5 591.4 L150.74 604 L152.98 591.4 L155.22 604 L157.46 591.4 L159.7 604 L161.94 591.4 L164.18 604 L166.42 591.4 L168.66 604 L170.9 591.4 L172.5 597.7" stroke="#0a0a0a" stroke-width="1.75" fill="none" stroke-linejoin="miter"/>
<path d="M172.5 597.7 L284 597.7 L337.7 598.6" stroke="#0a0a0a" stroke-width="1.8" fill="none"/>
<path d="M337.7 598.6 L339.3 592.5 L341.56 604.73 L343.82 592.56 L346.08 604.79 L348.34 592.62 L350.6 604.85 L352.86 592.68 L355.12 604.91 L357.38 592.74 L359.64 604.97 L361.9 592.8 L363.5 598.9" stroke="#0a0a0a" stroke-width="1.75" fill="none" stroke-linejoin="miter"/>
<path d="M363.5 598.9 L403.75 599.2 L403.75 620.2" stroke="#0a0a0a" stroke-width="1.8" fill="none"/>
<line x1="398" y1="620.2" x2="410.4" y2="620.2" stroke="#0a0a0a" stroke-width="1.6"/>
<line x1="400.5" y1="623.4" x2="407.9" y2="623.4" stroke="#0a0a0a" stroke-width="1.6"/>
<path d="M166.25 562.3 L166.25 574.4" stroke="#0a0a0a" stroke-width="1.8" fill="none"/>
<line x1="160.35" y1="574.4" x2="172.45" y2="574.4" stroke="#0a0a0a" stroke-width="1.6"/>
<line x1="163" y1="577.5" x2="169.8" y2="577.5" stroke="#0a0a0a" stroke-width="1.6"/>
<path d="M166.25 562.3 L252 562.3" stroke="#0a0a0a" stroke-width="1.8" fill="none"/>
<path d="M252 562.3 L253.6 557.3 L255.38 567.3 L257.16 557.3 L258.94 567.3 L260.72 557.3 L262.5 567.3 L264.28 557.3 L266.06 567.3 L267.84 557.3 L269.62 567.3 L271.4 557.3 L273 562.3" stroke="#0a0a0a" stroke-width="1.75" fill="none" stroke-linejoin="miter"/>
<path d="M273 562.3 L284 562.3 L284 647.3 L276.7 647.3" stroke="#0a0a0a" stroke-width="1.8" fill="none"/>
<path d="M243 562.3 L243 647.3 L248.3 647.3" stroke="#0a0a0a" stroke-width="1.8" fill="none"/>
<ellipse cx="262.5" cy="648.1" rx="14.2" ry="6.3" fill="#fff" stroke="#17274F" stroke-width="1.8"/>
<line x1="256.25" y1="647.8" x2="265" y2="647.8" stroke="#0a0a0a" stroke-width="1.5"/>
<polygon points="269,647.8 264.5,649.9 264.5,645.7" fill="#0a0a0a"/>
<polygon points="190.6,556.7 190.6,568.5 203,562.3" fill="#fff" stroke="#39465C" stroke-width="1.3"/>
<line x1="204.2" y1="548.3" x2="204.2" y2="572.3" stroke="#0a0a0a" stroke-width="1.5"/>
<text x="194.6" y="564.4" text-anchor="middle" font-size="5.5" fill="#333" font-weight="bold">2</text>
<line x1="257.7" y1="589" x2="257.7" y2="606.7" stroke="#0a0a0a" stroke-width="1.5"/>
<polygon points="258.8,597.7 271.9,591.9 271.9,604" fill="#fff" stroke="#39465C" stroke-width="1.3"/>
<text x="267.6" y="600" text-anchor="middle" font-size="5.5" fill="#333" font-weight="bold">1</text>
<ellipse cx="166.25" cy="562.3" rx="2.6" ry="3" fill="#4472C4"/>
<ellipse cx="243" cy="562.3" rx="2.6" ry="3" fill="#4472C4"/>
<ellipse cx="184" cy="597.7" rx="2.6" ry="3" fill="#4472C4"/>
<ellipse cx="220.4" cy="597.7" rx="2.6" ry="3" fill="#4472C4"/>
<ellipse cx="243" cy="597.7" rx="2.6" ry="3" fill="#4472C4"/>
<ellipse cx="283.7" cy="597.7" rx="2.6" ry="3" fill="#4472C4"/>
<ellipse cx="303.75" cy="598.3" rx="2.6" ry="3" fill="#4472C4"/>
<ellipse cx="403.75" cy="599.4" rx="2.6" ry="3" fill="#4472C4"/>
<text x="143.75" y="559.6" textLength="12.5" lengthAdjust="spacingAndGlyphs" fill="#4472C4" font-weight="bold" stroke="#4472C4" stroke-width="0.25" stroke-linejoin="round"><tspan font-size="13.69">I</tspan><tspan font-size="8.76">dd</tspan></text>
<line x1="160.4" y1="555.6" x2="176.4" y2="555.6" stroke="#4472C4" stroke-width="2" stroke-dasharray="2 2.4"/>
<polygon points="184.4,555.6 177.9,558.6 177.9,552.6" fill="#4472C4"/>
<line x1="273.3" y1="551.5" x2="257.6" y2="551.5" stroke="#4472C4" stroke-width="2" stroke-dasharray="2 2.4"/>
<polygon points="249.6,551.5 256.1,548.5 256.1,554.5" fill="#4472C4"/>
<text x="278" y="557.5" textLength="9" lengthAdjust="spacingAndGlyphs" fill="#4472C4" font-weight="bold" stroke="#4472C4" stroke-width="0.25" stroke-linejoin="round"><tspan font-size="13.69">I</tspan><tspan font-size="12.04">e</tspan></text>
<text x="255.8" y="581.7" textLength="15.45" lengthAdjust="spacingAndGlyphs" fill="#0a0a0a" font-weight="bold" stroke="#0a0a0a" stroke-width="0.25" stroke-linejoin="round"><tspan font-size="15.5">R</tspan><tspan font-size="11.63">e</tspan></text>
<text x="126" y="588.75" textLength="17.3" lengthAdjust="spacingAndGlyphs" fill="#4472C4" font-weight="bold" stroke="#4472C4" stroke-width="0.25" stroke-linejoin="round"><tspan font-size="13.62">I</tspan><tspan font-size="10.35">out</tspan></text>
<line x1="147.5" y1="586.25" x2="176" y2="586.25" stroke="#4472C4" stroke-width="2" stroke-dasharray="2 2.4"/>
<polygon points="184,586.25 177.5,589.25 177.5,583.25" fill="#4472C4"/>
<text x="155.8" y="619" textLength="26.1" lengthAdjust="spacingAndGlyphs" fill="#0a0a0a" font-weight="bold" stroke="#0a0a0a" stroke-width="0.25" stroke-linejoin="round"><tspan font-size="15.36">R</tspan><tspan font-size="10.75">out</tspan></text>
<text x="201" y="610.5" textLength="32.3" lengthAdjust="spacingAndGlyphs" fill="#0a0a0a" font-weight="bold" stroke="#0a0a0a" stroke-width="0.25" stroke-linejoin="round"><tspan font-size="8.3">- V</tspan><tspan font-size="5.8">out</tspan><tspan font-size="8.3"> &lt;0</tspan></text>
<line x1="274.6" y1="610.6" x2="258.4" y2="610.6" stroke="#4472C4" stroke-width="2" stroke-dasharray="2 2.4"/>
<polygon points="250.4,610.6 256.9,607.6 256.9,613.6" fill="#4472C4"/>
<text x="260" y="627.5" textLength="9" lengthAdjust="spacingAndGlyphs" fill="#4472C4" font-weight="bold" stroke="#4472C4" stroke-width="0.25" stroke-linejoin="round"><tspan font-size="13.97">I</tspan><tspan font-size="11.17">d</tspan></text>
<text x="217" y="636.25" textLength="13" lengthAdjust="spacingAndGlyphs" fill="#4472C4" font-weight="bold" stroke="#4472C4" stroke-width="0.25" stroke-linejoin="round"><tspan font-size="13.62">I</tspan><tspan font-size="11.98">sc</tspan></text>
<line x1="235" y1="622.7" x2="235" y2="638.25" stroke="#4472C4" stroke-width="2" stroke-dasharray="2 2.4"/>
<polygon points="235,646.25 232,639.75 238,639.75" fill="#4472C4"/>
<line x1="289.1" y1="645.2" x2="289.1" y2="630.7" stroke="#4472C4" stroke-width="2" stroke-dasharray="2 2.4"/>
<polygon points="289.1,622.7 292.1,629.2 286.1,629.2" fill="#4472C4"/>
<text x="297" y="641.5" textLength="13.6" lengthAdjust="spacingAndGlyphs" fill="#4472C4" font-weight="bold" stroke="#4472C4" stroke-width="0.25" stroke-linejoin="round"><tspan font-size="13.69">I</tspan><tspan font-size="12.04">sc</tspan></text>
<text x="257.3" y="667.5" textLength="12.5" lengthAdjust="spacingAndGlyphs" fill="#4472C4" font-weight="bold" stroke="#4472C4" stroke-width="0.25" stroke-linejoin="round"><tspan font-size="13.97">I</tspan><tspan font-size="12.29">sc</tspan></text>
<text x="198.3" y="670" textLength="31.9" lengthAdjust="spacingAndGlyphs" fill="#E8202A" font-weight="bold" stroke="#E8202A" stroke-width="0.25" stroke-linejoin="round"><tspan font-size="16.76">Light</tspan></text>
<polygon points="239.18,665.71 249.78,658.83 250.85,660.47 253,654.6 246.76,654.17 247.83,655.81 237.22,662.69" fill="#fff" stroke="#E8202A" stroke-width="1.1" stroke-linejoin="miter"/>
<text x="343.3" y="585.8" textLength="13.6" lengthAdjust="spacingAndGlyphs" fill="#0a0a0a" font-weight="bold" stroke="#0a0a0a" stroke-width="0.25" stroke-linejoin="round"><tspan font-size="15.36">R</tspan><tspan font-size="10.75">s</tspan></text>
<text x="296.9" y="610.5" textLength="19.8" lengthAdjust="spacingAndGlyphs" fill="#0a0a0a" font-weight="bold" stroke="#0a0a0a" stroke-width="0.25" stroke-linejoin="round"><tspan font-size="8.5">V</tspan><tspan font-size="6">s</tspan><tspan font-size="8.5"> &gt;0</tspan></text>
<line x1="333.3" y1="609.6" x2="363.5" y2="609.6" stroke="#4472C4" stroke-width="2" stroke-dasharray="2 2.4"/>
<polygon points="371.5,609.6 365,612.6 365,606.6" fill="#4472C4"/>
<text x="347.5" y="628.3" textLength="7.9" lengthAdjust="spacingAndGlyphs" fill="#4472C4" font-weight="bold" stroke="#4472C4" stroke-width="0.25" stroke-linejoin="round"><tspan font-size="13.69">I</tspan><tspan font-size="10.95">s</tspan></text>
<!-- (b) right circuit -->
<path d="M522 464 L522 448.6 L768 448.6" stroke="#0a0a0a" stroke-width="2" fill="none"/>
<path d="M766 448.7 L878 448.7 L878 535" stroke="#0a0a0a" stroke-width="2.8" fill="none"/>
<path d="M522 518 L522 534.3 L628.75 533 L706.5 531.9 L706.5 516.8" stroke="#0a0a0a" stroke-width="2" fill="none"/>
<ellipse cx="521.5" cy="491" rx="11.3" ry="27" fill="#fff" stroke="#17274F" stroke-width="1.9"/>
<line x1="521.2" y1="480" x2="521.2" y2="500.7" stroke="#0a0a0a" stroke-width="1.6"/>
<polygon points="521.2,505.2 518.9,500.2 523.5,500.2" fill="#0a0a0a"/>
<line x1="628.75" y1="448.6" x2="628.75" y2="558" stroke="#0a0a0a" stroke-width="2"/>
<line x1="610.75" y1="486.8" x2="650" y2="486.8" stroke="#0a0a0a" stroke-width="1.5"/>
<polygon points="628.75,488.8 645.4,510.8 613.2,510.8" fill="#fff" stroke="#1F3864" stroke-width="1.6"/>
<text x="628.9" y="508.4" text-anchor="middle" font-size="11.5" fill="#222" font-weight="bold">1</text>
<line x1="706.5" y1="448.6" x2="706.5" y2="468.7" stroke="#0a0a0a" stroke-width="2"/>
<path d="M706.2 468.7 L685 470.9 L724.4 474.51 L685 476.36 L724.4 479.97 L685 481.82 L724.4 485.43 L685 487.29 L724.4 490.89 L685 492.75 L724.4 496.36 L685 498.21 L724.4 501.82 L685 503.67 L724.4 507.28 L685 509.14 L724.4 512.74 L685 514.6 L706.2 516.8" stroke="#0a0a0a" stroke-width="2" fill="none" stroke-linejoin="miter" stroke-miterlimit="2"/>
<path d="M628.75 558 L608.6 560.2 L647.7 563.92 L608.6 565.84 L647.7 569.56 L608.6 571.48 L647.7 575.2 L608.6 577.11 L647.7 580.83 L608.6 582.75 L647.7 586.47 L608.6 588.39 L647.7 592.11 L608.6 594.03 L647.7 597.75 L608.6 599.66 L647.7 603.38 L608.6 605.3 L628.75 607.5" stroke="#0a0a0a" stroke-width="2" fill="none" stroke-linejoin="miter" stroke-miterlimit="2"/>
<line x1="628.75" y1="607.5" x2="628.75" y2="637.8" stroke="#0a0a0a" stroke-width="2"/>
<line x1="613" y1="637.8" x2="644.8" y2="637.8" stroke="#0a0a0a" stroke-width="1.6"/>
<line x1="619.4" y1="642" x2="638.4" y2="642" stroke="#0a0a0a" stroke-width="1.6"/>
<line x1="768" y1="448.6" x2="768" y2="550" stroke="#0a0a0a" stroke-width="2"/>
<path d="M768 550 L747.5 552.2 L786.6 555.76 L747.5 557.6 L786.6 561.16 L747.5 563 L786.6 566.56 L747.5 568.4 L786.6 571.96 L747.5 573.8 L786.6 577.36 L747.5 579.2 L786.6 582.76 L747.5 584.6 L786.6 588.16 L747.5 590 L786.6 593.56 L747.5 595.4 L768 597.6" stroke="#0a0a0a" stroke-width="2" fill="none" stroke-linejoin="miter" stroke-miterlimit="2"/>
<line x1="768" y1="597.6" x2="768" y2="635.2" stroke="#0a0a0a" stroke-width="2"/>
<line x1="751.9" y1="635.2" x2="783.7" y2="635.2" stroke="#0a0a0a" stroke-width="1.6"/>
<line x1="758.6" y1="639.6" x2="777" y2="639.6" stroke="#0a0a0a" stroke-width="1.6"/>
<line x1="850.8" y1="534.4" x2="909" y2="534.4" stroke="#0a0a0a" stroke-width="2.6"/>
<line x1="879.3" y1="566" x2="879.7" y2="635.2" stroke="#0a0a0a" stroke-width="2.8"/>
<polygon points="878.2,536.4 898.2,566.2 859.4,566.2" fill="#fff" stroke="#1F3864" stroke-width="2.4"/>
<text x="878.6" y="561.8" text-anchor="middle" font-size="13.5" fill="#111" font-weight="bold">2</text>
<line x1="861.4" y1="635.2" x2="898" y2="635.2" stroke="#0a0a0a" stroke-width="3.2"/>
<line x1="874" y1="642.6" x2="887" y2="642.6" stroke="#0a0a0a" stroke-width="3.2"/>
<ellipse cx="628.9" cy="448.7" rx="3.9" ry="3.9" fill="#000"/>
<ellipse cx="706.5" cy="448.7" rx="3.9" ry="3.9" fill="#000"/>
<ellipse cx="628.75" cy="533" rx="3.9" ry="3.9" fill="#000"/>
<ellipse cx="766.5" cy="449" rx="7" ry="5.2" fill="#000"/>
<text x="547" y="437" textLength="20.5" lengthAdjust="spacingAndGlyphs" fill="#0a0a0a" font-weight="bold" stroke="#0a0a0a" stroke-width="0.45" stroke-linejoin="round"><tspan font-size="19.55">I</tspan><tspan font-size="14.08">sc</tspan></text>
<line x1="577.5" y1="444.25" x2="548.25" y2="444.25" stroke="#0a0a0a" stroke-width="1.8"/>
<polygon points="541.25,444.25 548.75,441.25 548.75,447.25" fill="#0a0a0a"/>
<text x="636" y="439" textLength="92" lengthAdjust="spacingAndGlyphs" fill="#0a0a0a" font-weight="bold" stroke="#0a0a0a" stroke-width="0.45" stroke-linejoin="round"><tspan font-size="20.25">– V</tspan><tspan font-size="14.58">out</tspan><tspan font-size="20.25"> &lt; 0</tspan></text>
<text x="463.75" y="485" textLength="41.75" lengthAdjust="spacingAndGlyphs" fill="#E8202A" font-weight="bold" stroke="#E8202A" stroke-width="0.45" stroke-linejoin="round"><tspan font-size="16.41">Light</tspan></text>
<polygon points="481.25,497.3 497.5,497.3 497.5,500 504.5,495 497.5,490 497.5,492.7 481.25,492.7" fill="#fff" stroke="#E8202A" stroke-width="1.2" stroke-linejoin="miter"/>
<text x="580" y="494.5" textLength="15" lengthAdjust="spacingAndGlyphs" fill="#0a0a0a" font-weight="bold" stroke="#0a0a0a" stroke-width="0.45" stroke-linejoin="round"><tspan font-size="20.25">I</tspan><tspan font-size="15.19">d</tspan></text>
<line x1="603" y1="506.25" x2="603" y2="477.25" stroke="#0a0a0a" stroke-width="1.9"/>
<polygon points="603,470.75 606.2,477.75 599.8,477.75" fill="#0a0a0a"/>
<text x="657" y="502.7" textLength="23" lengthAdjust="spacingAndGlyphs" fill="#0a0a0a" font-weight="bold" stroke="#0a0a0a" stroke-width="0.45" stroke-linejoin="round"><tspan font-size="19.13">R</tspan><tspan font-size="14.35">e</tspan></text>
<line x1="734" y1="515.4" x2="734" y2="489.5" stroke="#0a0a0a" stroke-width="1.9"/>
<polygon points="734,483 737.2,490 730.8,490" fill="#0a0a0a"/>
<text x="738.8" y="506.7" textLength="13.9" lengthAdjust="spacingAndGlyphs" fill="#0a0a0a" font-weight="bold" stroke="#0a0a0a" stroke-width="0.45" stroke-linejoin="round"><tspan font-size="19.13">I</tspan><tspan font-size="14.35">e</tspan></text>
<line x1="784.4" y1="537" x2="784.4" y2="510.9" stroke="#0a0a0a" stroke-width="1.9"/>
<polygon points="784.4,504.4 787.6,511.4 781.2,511.4" fill="#0a0a0a"/>
<text x="796" y="529" textLength="31.7" lengthAdjust="spacingAndGlyphs" fill="#0a0a0a" font-weight="bold" stroke="#0a0a0a" stroke-width="0.45" stroke-linejoin="round"><tspan font-size="19.83">I</tspan><tspan font-size="14.87">out</tspan></text>
<text x="820.5" y="495" textLength="31.5" lengthAdjust="spacingAndGlyphs" fill="#0a0a0a" font-weight="bold" stroke="#0a0a0a" stroke-width="0.9" stroke-linejoin="round"><tspan font-size="28.77">I</tspan><tspan font-size="22.44">dd</tspan></text>
<line x1="863" y1="510.5" x2="863" y2="475.5" stroke="#0a0a0a" stroke-width="3"/>
<polygon points="863,467 867,476 859,476" fill="#0a0a0a"/>
<text x="634.4" y="553" textLength="56.3" lengthAdjust="spacingAndGlyphs" fill="#0a0a0a" font-weight="bold" stroke="#0a0a0a" stroke-width="0.45" stroke-linejoin="round"><tspan font-size="18.85">V</tspan><tspan font-size="13.2">s</tspan><tspan font-size="18.85"> &gt; 0</tspan></text>
<line x1="537" y1="541.75" x2="573.5" y2="541.75" stroke="#0a0a0a" stroke-width="1.8"/>
<polygon points="580.5,541.75 573,544.75 573,538.75" fill="#0a0a0a"/>
<text x="550.75" y="562.5" textLength="20.5" lengthAdjust="spacingAndGlyphs" fill="#0a0a0a" font-weight="bold" stroke="#0a0a0a" stroke-width="0.45" stroke-linejoin="round"><tspan font-size="19.2">I</tspan><tspan font-size="13.83">sc</tspan></text>
<text x="574.6" y="585.5" textLength="21.9" lengthAdjust="spacingAndGlyphs" fill="#0a0a0a" font-weight="bold" stroke="#0a0a0a" stroke-width="0.45" stroke-linejoin="round"><tspan font-size="18.85">R</tspan><tspan font-size="13.2">s</tspan></text>
<line x1="658" y1="572" x2="658" y2="596.5" stroke="#0a0a0a" stroke-width="1.9"/>
<polygon points="658,603 654.8,596 661.2,596" fill="#0a0a0a"/>
<text x="670.7" y="604" textLength="16.1" lengthAdjust="spacingAndGlyphs" fill="#0a0a0a" font-weight="bold" stroke="#0a0a0a" stroke-width="0.9" stroke-linejoin="round"><tspan font-size="29.33">I</tspan><tspan font-size="22.88">s</tspan></text>
<text x="793" y="585.5" textLength="40.3" lengthAdjust="spacingAndGlyphs" fill="#0a0a0a" font-weight="bold" stroke="#0a0a0a" stroke-width="0.45" stroke-linejoin="round"><tspan font-size="18.85">R</tspan><tspan font-size="14.14">out</tspan></text>
<text x="465.8" y="645.6" textLength="58.7" lengthAdjust="spacingAndGlyphs" fill="#0a0a0a" font-weight="bold" stroke="#0a0a0a" stroke-width="0.45" stroke-linejoin="round"><tspan font-size="46">(b)</tspan></text>
</g>
</svg>
</body></html>
